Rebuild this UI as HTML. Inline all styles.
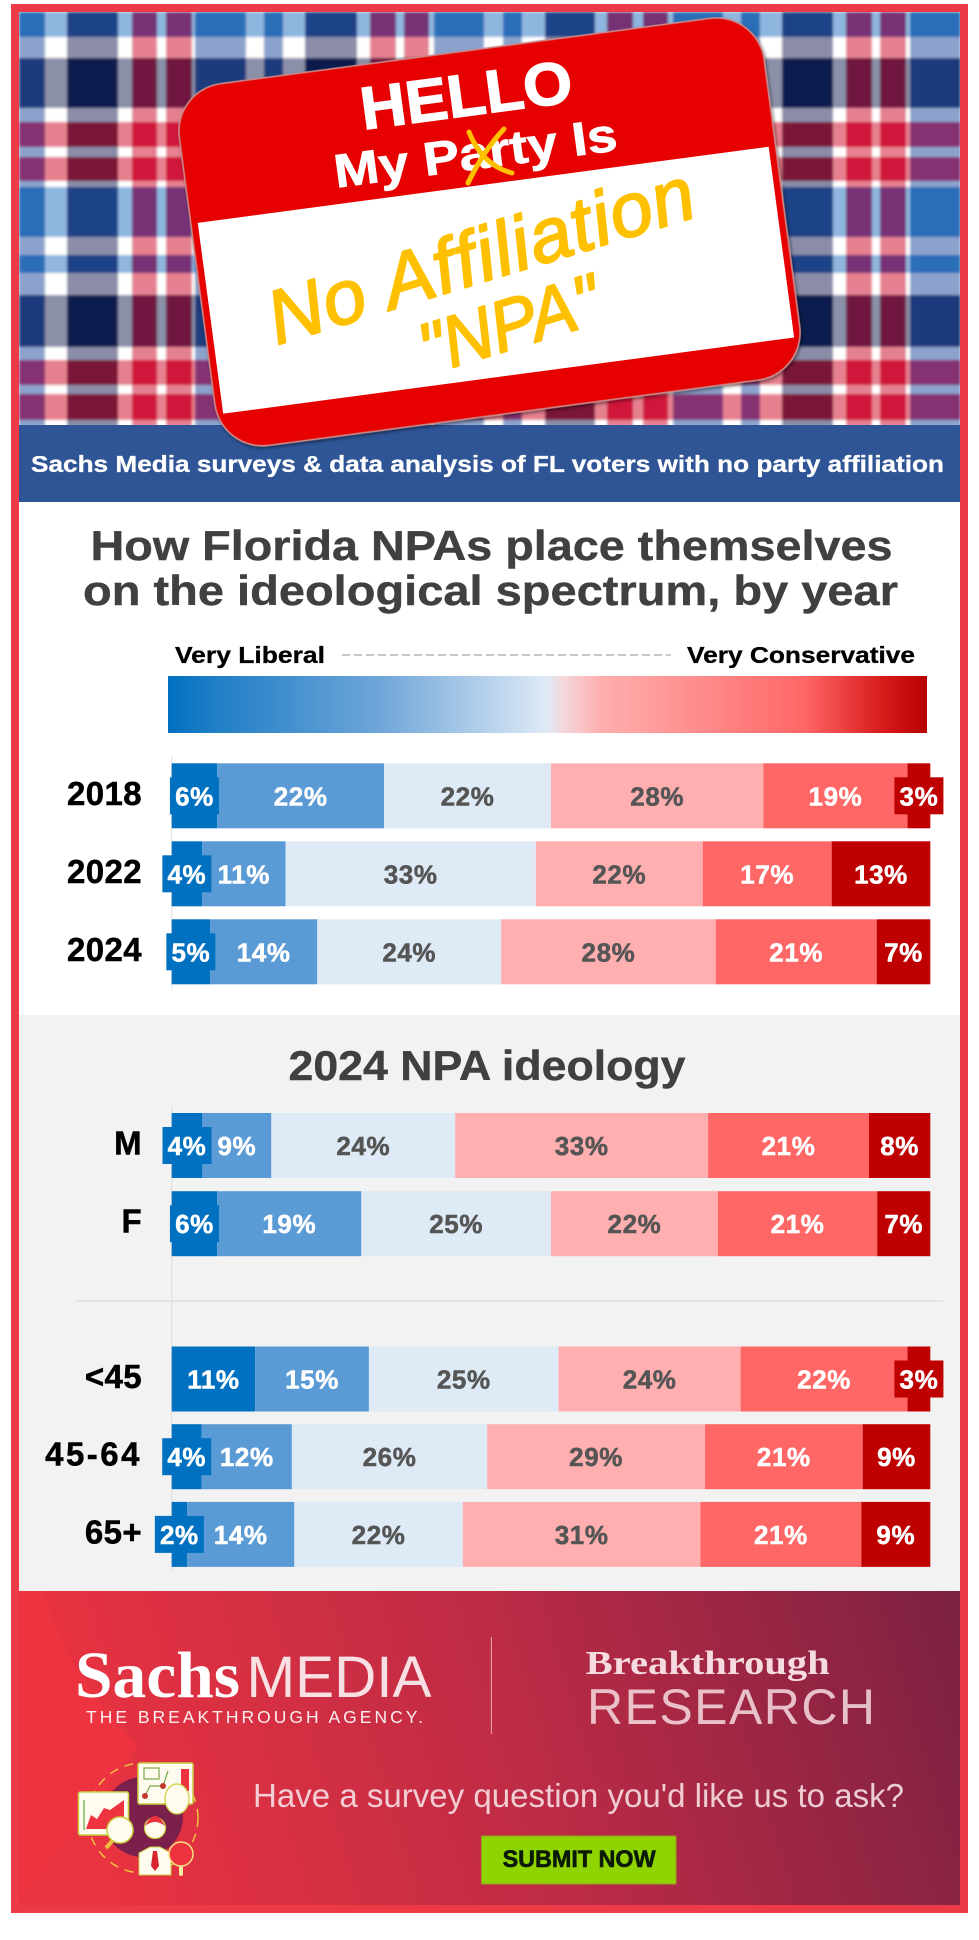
<!DOCTYPE html>
<html lang="en">
<head>
<meta charset="utf-8">
<title>Florida NPA ideology infographic</title>
<style>
html,body{margin:0;padding:0;background:#fff;}
svg{display:block;font-family:"Liberation Sans",sans-serif;}
</style>
</head>
<body>
<svg id="page" xmlns="http://www.w3.org/2000/svg" width="979" height="1940" viewBox="0 0 979 1940">
  <defs>
    <linearGradient id="spectrum" x1="0" x2="1" y1="0" y2="0">
      <stop offset="0" stop-color="#0070C0"/>
      <stop offset="0.06" stop-color="#1f7ec6"/>
      <stop offset="0.28" stop-color="#6fa6d9"/>
      <stop offset="0.50" stop-color="#DEEAF6"/>
      <stop offset="0.52" stop-color="#f3d8dc"/>
      <stop offset="0.57" stop-color="#FFAFAF"/>
      <stop offset="0.84" stop-color="#FF6666"/>
      <stop offset="0.94" stop-color="#d81c1c"/>
      <stop offset="1" stop-color="#B80000"/>
    </linearGradient>
    <linearGradient id="footer-grad" x1="0" x2="1" y1="0.1" y2="0">
      <stop offset="0" stop-color="#EA3340"/>
      <stop offset="0.5" stop-color="#BC2B45"/>
      <stop offset="1" stop-color="#7C2142"/>
    </linearGradient>
    <clipPath id="plaid-clip"><rect x="19" y="12" width="941" height="413"/></clipPath>
    <filter id="soft" x="-2%" y="-2%" width="104%" height="104%"><feGaussianBlur stdDeviation="1.3"/></filter>
    <filter id="card-shadow" x="-5%" y="-5%" width="110%" height="110%"><feDropShadow dx="1" dy="2" stdDeviation="1.5" flood-color="#000" flood-opacity=".45"/></filter>
  </defs>

  <rect x="11" y="4" width="957" height="1909" fill="#EC3A47"/>
  <rect x="19" y="12" width="941" height="490" fill="#fff"/>
  <g id="plaid" clip-path="url(#plaid-clip)"><g id="plaid-inner" filter="url(#soft)"></g></g>
  <rect x="19" y="425" width="941" height="77" fill="#2F5597"/>

  <g transform="translate(488.5 232) rotate(-7.6)">
    <rect x="-294" y="-182.5" width="590" height="365" rx="48" fill="#E60000" stroke="#c98a8a" stroke-width="1.5" filter="url(#card-shadow)"/>
    <rect x="-287" y="-47.5" width="576" height="192.5" fill="#fff"/>
    <text x="-4" y="-118" text-anchor="middle" font-size="60" font-weight="700" fill="#fff" stroke="#fff" stroke-width="1.4" textLength="213" lengthAdjust="spacingAndGlyphs">HELLO</text>
    <text x="-2.5" y="-64" text-anchor="middle" font-size="47" font-weight="700" fill="#fff" stroke="#fff" stroke-width=".8" textLength="285" lengthAdjust="spacingAndGlyphs">My Party Is</text>
  </g>
  <g stroke="#FFC000" stroke-width="5" stroke-linecap="round" fill="none">
    <path d="M504 129 Q484 150 468 183"/>
    <path d="M469 132 Q482 165 512 173"/>
  </g>
  <text transform="translate(277 345) rotate(-17)" font-size="76" font-style="italic" fill="#FFC000" stroke="#FFC000" stroke-width="2" stroke-linejoin="round" textLength="442" lengthAdjust="spacing">No Affiliation</text>
  <text transform="translate(428 375) rotate(-17)" font-size="72" font-style="italic" fill="#FFC000" stroke="#FFC000" stroke-width="2" stroke-linejoin="round" textLength="185" lengthAdjust="spacingAndGlyphs">"NPA"</text>

  <text x="31" y="472" font-size="23" font-weight="700" fill="#fff" stroke="#fff" stroke-width=".3" textLength="913" lengthAdjust="spacingAndGlyphs">Sachs Media surveys &amp; data analysis of FL voters with no party affiliation</text>

  <rect x="19" y="502" width="941" height="513" fill="#fff"/>
  <text x="90.5" y="560" font-size="42" font-weight="700" fill="#404040" stroke="#404040" stroke-width=".4" textLength="802" lengthAdjust="spacingAndGlyphs">How Florida NPAs place themselves</text>
  <text x="83" y="605" font-size="42" font-weight="700" fill="#404040" stroke="#404040" stroke-width=".4" textLength="815" lengthAdjust="spacingAndGlyphs">on the ideological spectrum, by year</text>

  <text x="175" y="663" font-size="23" font-weight="700" fill="#000" stroke="#000" stroke-width=".3" textLength="150" lengthAdjust="spacingAndGlyphs">Very Liberal</text>
  <line x1="342" x2="671" y1="655" y2="655" stroke="#b5b5b5" stroke-width="1.5" stroke-dasharray="8 4"/>
  <text x="687" y="663" font-size="23" font-weight="700" fill="#000" stroke="#000" stroke-width=".3" textLength="228" lengthAdjust="spacingAndGlyphs">Very Conservative</text>
  <rect x="168" y="676" width="759" height="57" fill="url(#spectrum)"/>

  <rect x="19" y="1015" width="941" height="576" fill="#F2F2F2"/>
  <text x="288.5" y="1080" font-size="42" font-weight="700" fill="#404040" stroke="#404040" stroke-width=".4" textLength="397" lengthAdjust="spacingAndGlyphs">2024 NPA ideology</text>
  <line x1="75" x2="943" y1="1301" y2="1301" stroke="#DDDDDD" stroke-width="1.2"/>

  <g id="chart"></g>

  <g>
    <rect x="19" y="1591" width="941" height="314" fill="url(#footer-grad)"/>
    <path d="M19 1591 L44 1591 Q70 1680 138 1745 Q70 1840 19 1902 Z" fill="#EF3340" fill-opacity=".8"/>
    <text x="75" y="1697" font-family="'Liberation Serif',serif" font-size="66" font-weight="700" fill="#fff" textLength="165" lengthAdjust="spacingAndGlyphs">Sachs</text>
    <text x="246.5" y="1697" font-size="58" fill="#fff" fill-opacity=".85" textLength="185" lengthAdjust="spacingAndGlyphs">MEDIA</text>
    <text x="86" y="1723" font-size="17.5" fill="#fff" fill-opacity=".92" textLength="337" lengthAdjust="spacing">THE BREAKTHROUGH AGENCY.</text>
    <line x1="491.4" x2="491.4" y1="1637" y2="1734" stroke="#fff" stroke-opacity=".6" stroke-width="1"/>
    <text x="585.7" y="1674" font-family="'Liberation Serif',serif" font-size="34" font-weight="700" fill="#F6DCE1" textLength="244" lengthAdjust="spacingAndGlyphs">Breakthrough</text>
    <text x="587" y="1724" font-size="50" fill="#F6DCE1" fill-opacity=".85" textLength="288" lengthAdjust="spacing">RESEARCH</text>
    <text x="253" y="1807" font-size="33" fill="#F6DFE3" fill-opacity=".9" textLength="651" lengthAdjust="spacingAndGlyphs">Have a survey question you'd like us to ask?</text>
    <rect x="481.5" y="1836" width="194.5" height="48" fill="#8FD400" stroke="#9a9a20" stroke-width="1"/>
    <text x="502.6" y="1867" font-size="24" font-weight="700" fill="#0b1a06" stroke="#0b1a06" stroke-width=".6" textLength="153" lengthAdjust="spacingAndGlyphs">SUBMIT NOW</text>

    <g>
      <circle cx="143" cy="1817" r="40" fill="#7B1F4C"/>
      <circle cx="143" cy="1818" r="55" fill="none" stroke="#F0C040" stroke-width="1.5" stroke-dasharray="9 7"/>
      <rect x="78.5" y="1792" width="50" height="43" rx="2" fill="#FFFBEF" stroke="#C8D040" stroke-width="1.5"/>
      <path d="M86 1829 L91 1815 L97 1819 L104 1808 L110 1810 L124 1800 L124 1829 Z" fill="#EE3340"/>
      <line x1="84" y1="1800" x2="84" y2="1830" stroke="#5ea84a" stroke-width="1.2"/>
      <rect x="138" y="1763" width="55" height="41" rx="2" fill="#FFFBEF" stroke="#C8D040" stroke-width="1.5"/>
      <rect x="144" y="1768" width="15" height="11" fill="none" stroke="#7aa84a" stroke-width="1.2"/>
      <rect x="181" y="1769" width="8" height="22" fill="#EE3340"/>
      <path d="M145 1796 L150 1786 L163 1786 L168 1771" fill="none" stroke="#7aa84a" stroke-width="1.2"/>
      <circle cx="145" cy="1796" r="3" fill="#C0392B"/>
      <circle cx="163" cy="1786" r="3" fill="#C0392B"/>
      <ellipse cx="177" cy="1799" rx="12" ry="15" fill="#FFFBEF" stroke="#C8D040" stroke-width="1.2"/>
      <line x1="113" y1="1840" x2="106" y2="1848" stroke="#F0C040" stroke-width="4"/>
      <circle cx="120" cy="1830" r="13" fill="#FFFBEF" stroke="#C8D040" stroke-width="1.5"/>
      <circle cx="155" cy="1828" r="10.5" fill="#FFFBEF" stroke="#C8D040" stroke-width="1.2"/>
      <path d="M145 1826 Q155 1806 165 1826 Q155 1818 145 1826 Z" fill="#EE3340"/>
      <path d="M139 1875 L139 1853 L150 1847 L160 1847 L171 1853 L171 1875 Z" fill="#FFFBEF" stroke="#C8D040" stroke-width="1"/>
      <path d="M153 1851 L157 1851 L159 1866 L155 1871 L151 1866 Z" fill="#D8242F"/>
      <line x1="181" y1="1865" x2="181" y2="1874" stroke="#F7E9A0" stroke-width="4" stroke-linecap="round"/>
      <circle cx="181" cy="1854" r="12" fill="#EE3340" stroke="#F5E080" stroke-width="1.5"/>
    </g>
  </g>
</svg>
<script>
// Chart data
const yearCategories = ['2018', '2022', '2024'];
const genderCategories = ['M', 'F'];
const ageCategories = ['<45', '45-64', '65+'];
const year2018 = [6, 22, 22, 28, 19, 3];
const year2022 = [4, 11, 33, 22, 17, 13];
const year2024 = [5, 14, 24, 28, 21, 7];
const genderM = [4, 9, 24, 33, 21, 8];
const genderF = [6, 19, 25, 22, 21, 7];
const ageUnder45 = [11, 15, 25, 24, 22, 3];
const age45to64 = [4, 12, 26, 29, 21, 9];
const age65plus = [2, 14, 22, 31, 21, 9];
const ideologyLevels = ['very-liberal', 'liberal', 'moderate-liberal', 'moderate-conservative', 'conservative', 'very-conservative'];

// Plaid weave description: thread type and band size, left-to-right and top-to-bottom
const plaidColumnThreads = ['B','L','N','L','R','L','R','L','B','L','B','L','N','L','R','L','R','L','B','L','B','L','N','L','R','L','R','L','B','L','B','L','N','L','R','L','R','L','B'];
const plaidColumnWidths = [26,22,51,14,25,9,26,3,51,18,19,22,52,13,26,8,25,5,50,19,19,23,50,12,26,10,25,5,50,18,19,22,51,13,26,8,26,4,50];
const plaidRowThreads = ['B','L','N','L','R','L','R','L','B','L','B','L','N','L','R','L','R','L'];
const plaidRowHeights = [25,21,50,14,25,10,24,6,50,18,18,22,52,13,25,9,26,6];
const plaidColours = {
  LL: '#ffffff', LB: '#8fb6de', LN: '#8b8fa8', LR: '#e6808f',
  BL: '#8ba2cc', BB: '#2c6eb8', BN: '#1b3a7c', BR: '#853072',
  NL: '#8a8ca8', NB: '#1c4288', NN: '#0d1a50', NR: '#7a1838',
  RL: '#e58090', RB: '#763075', RN: '#701840', RR: '#d0183a'
};

const SVGNS = 'http://www.w3.org/2000/svg';
const COLOURS = ['#0070C0', '#5B9BD5', '#DEEAF6', '#FFAFAF', '#FF6666', '#BE0000'];
const TEXT_COLOURS = ['#fff', '#fff', '#555', '#555', '#fff', '#fff'];
const X0 = 171.7;
const BAR_WIDTH = 758.6;
const BAR_HEIGHT = 65;
const PILL_WIDTH = 49;
const PILL_HEIGHT = 37;

function svgEl(tag, attrs, parent) {
  const el = document.createElementNS(SVGNS, tag);
  Object.keys(attrs).forEach(function (k) { el.setAttribute(k, attrs[k]); });
  parent.appendChild(el);
  return el;
}

// x axis: share of the row's total mapped to pixels
function xScale(cumulative, total) {
  return X0 + (cumulative / total) * BAR_WIDTH;
}

function drawRow(parent, label, values, top) {
  const total = values.reduce(function (a, b) { return a + b; }, 0);
  const row = svgEl('g', {}, parent);
  
  
  const cy = top + BAR_HEIGHT / 2;

  const rowLabel = svgEl('text', {
    x: 142, y: cy + 9, 'text-anchor': 'end', 'font-size': 33, 'font-weight': 700,
    fill: '#000', stroke: '#000', 'stroke-width': 0.5, 'letter-spacing': label.length > 4 ? 2.5 : 0.4
  }, row);
  
  
  rowLabel.textContent = label;

  let cum = 0;
  const spans = values.map(function (v) {
    const a = xScale(cum, total);
    cum += v;
    const b = xScale(cum, total);
    return [a, b];
  });

  spans.forEach(function (s, i) {
    const seg = svgEl('rect', { x: s[0], y: top, width: s[1] - s[0], height: BAR_HEIGHT, fill: COLOURS[i] }, row);
    
    
  });

  spans.forEach(function (s, i) {
    const mid = (s[0] + s[1]) / 2;
    if (s[1] - s[0] < PILL_WIDTH) {
      const pill = svgEl('rect', {
        x: mid - PILL_WIDTH / 2, y: cy - PILL_HEIGHT / 2, width: PILL_WIDTH, height: PILL_HEIGHT,
        fill: COLOURS[i]
      }, row);
      
      
    }
    const t = svgEl('text', {
      x: mid, y: cy + 9.5, 'text-anchor': 'middle', 'font-size': 26, 'font-weight': 700,
      fill: TEXT_COLOURS[i], stroke: TEXT_COLOURS[i], 'stroke-width': 0.5, 'letter-spacing': 0.6
    }, row);
    
    
    t.textContent = values[i] + '%';
  });
}

function drawAxis(parent, y1, y2) {
  const axis = svgEl('line', { x1: X0, x2: X0, y1: y1, y2: y2, stroke: '#DDDDDD', 'stroke-width': 1 }, parent);
  
  
}

function drawGroup(parent, labels, rows, top, step) {
  labels.forEach(function (label, i) {
    drawRow(parent, label, rows[i], top + i * step);
  });
}

const chart = document.getElementById('chart');
drawAxis(chart, 756, 990);
drawAxis(chart, 1106, 1572);
drawGroup(chart, yearCategories, [year2018, year2022, year2024], 763.3, 78);
drawGroup(chart, genderCategories, [genderM, genderF], 1113, 78.2);
drawGroup(chart, ageCategories, [ageUnder45, age45to64, age65plus], 1346.5, 77.7);

// Plaid
const plaid = document.getElementById('plaid-inner');
let plaidY = 12;
plaidRowHeights.forEach(function (rh, r) {
  let plaidX = 19;
  plaidColumnWidths.forEach(function (cw, c) {
    const cell = svgEl('rect', {
      x: plaidX, y: plaidY, width: cw + 0.5, height: rh + 0.5,
      fill: plaidColours[plaidColumnThreads[c] + plaidRowThreads[r]]
    }, plaid);
    
    
    plaidX += cw;
  });
  plaidY += rh;
});
</script>
</body>
</html>
